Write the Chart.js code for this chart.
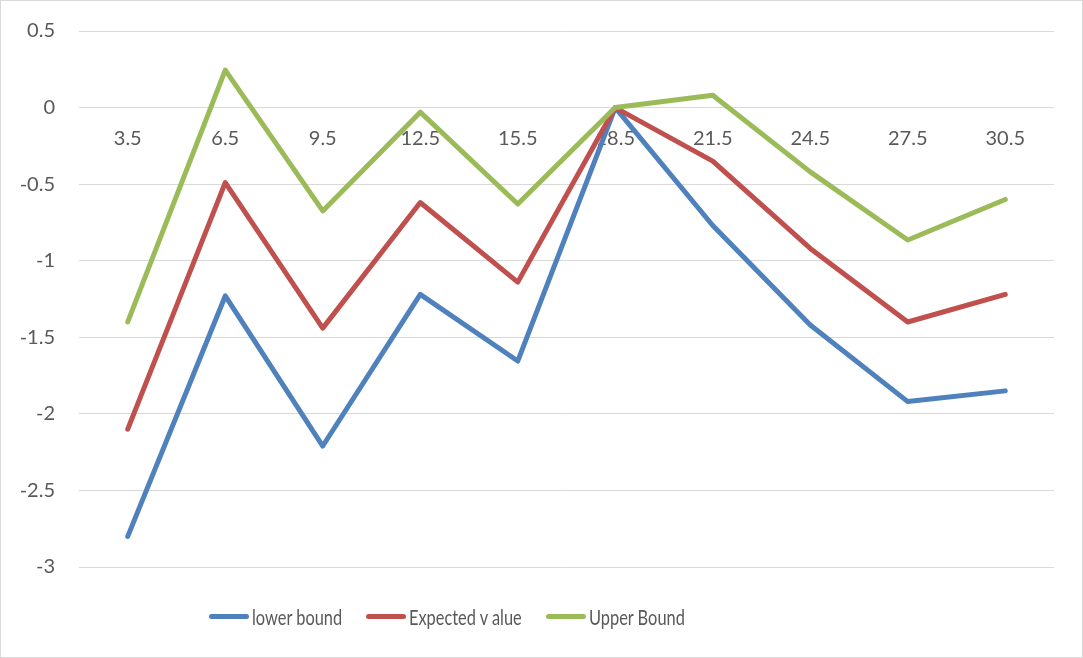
<!DOCTYPE html>
<html>
<head>
<meta charset="utf-8">
<script src="https://cdn.jsdelivr.net/npm/chart.js@4/dist/chart.umd.min.js"></script>
<style>
  body { margin:0; background:#fff; }
  #wrap { position:relative; width:1083px; height:658px; }
  #frame { position:absolute; left:0; top:0; width:1083px; height:658px; box-sizing:border-box; border:1px solid #d9d9d9; pointer-events:none; }
  #legend { position:absolute; left:209px; top:604px; display:flex; align-items:center; font-family:Lato, Roboto, sans-serif; font-size:21px; color:#595959; white-space:nowrap; }
  #legend .item { display:flex; align-items:center; margin-right:24px; }
  #legend .mark { width:40px; height:5px; border-radius:3px; margin-right:3px; }
  #legend .lbl { display:inline-block; transform:scaleX(0.78); transform-origin:left center; }
</style>
</head>
<body>
<div id="wrap">
  <canvas id="chart" width="1083" height="658"></canvas>
  <div id="legend"></div>
  <div id="frame"></div>
</div>
<script>
// data
const categories = ["3.5","6.5","9.5","12.5","15.5","18.5","21.5","24.5","27.5","30.5"];
const lowerBound    = [-2.80,-1.23,-2.21,-1.22,-1.655,0,-0.77,-1.42,-1.92,-1.85];
const expectedValue = [-2.10,-0.49,-1.44,-0.62,-1.14,0,-0.35,-0.92,-1.40,-1.22];
const upperBound    = [-1.40,0.245,-0.675,-0.03,-0.63,0,0.08,-0.42,-0.865,-0.60];
const seriesNames = ["lower bound","Expected v alue","Upper Bound"];
const seriesColors = ["#4f81bd","#c0504d","#9bbb59"];

const txt = "#595959";
const font = { family:"Lato, 'Noto Sans', sans-serif", size:20 };

function ds(i, data){
  return { label:seriesNames[i], data:data, borderColor:seriesColors[i], backgroundColor:seriesColors[i],
    borderWidth:5, pointRadius:0, tension:0, borderJoinStyle:"round", borderCapStyle:"round", order:2-i };
}

new Chart(document.getElementById("chart"), {
  type:"line",
  data:{ labels:categories, datasets:[ds(0,lowerBound), ds(1,expectedValue), ds(2,upperBound)] },
  options:{
    responsive:false, animation:false,
    layout:{ padding:{ top:31, right:29, bottom:91, left:0 } },
    plugins:{ legend:{ display:false }, tooltip:{ enabled:false } },
    scales:{
      x:{ position:{ y:0 }, offset:true,
        grid:{ display:false, drawTicks:false }, border:{ display:false },
        ticks:{ color:txt, font:font, padding:19, maxRotation:0 } },
      y:{ min:-3, max:0.5,
        afterFit:function(s){ s.width = 79; s.paddingTop = 0; s.paddingBottom = 0; },
        grid:{ color:"#d9d9d9", lineWidth:1, drawTicks:false }, border:{ display:false },
        ticks:{ stepSize:0.5, color:txt, font:font, padding:24, callback:function(v){ return String(v); } } }
    }
  }
});

// legend (narrowed text to mimic the condensed original face)
const leg = document.getElementById("legend");
seriesNames.forEach(function(n,i){
  const it = document.createElement("div"); it.className="item";
  const m = document.createElement("span"); m.className="mark"; m.style.background=seriesColors[i];
  const t = document.createElement("span"); t.className="lbl"; t.textContent=n;
  it.appendChild(m); it.appendChild(t); leg.appendChild(it);
  t.style.marginRight = (-0.22*t.offsetWidth)+"px";
});
</script>
</body>
</html>
